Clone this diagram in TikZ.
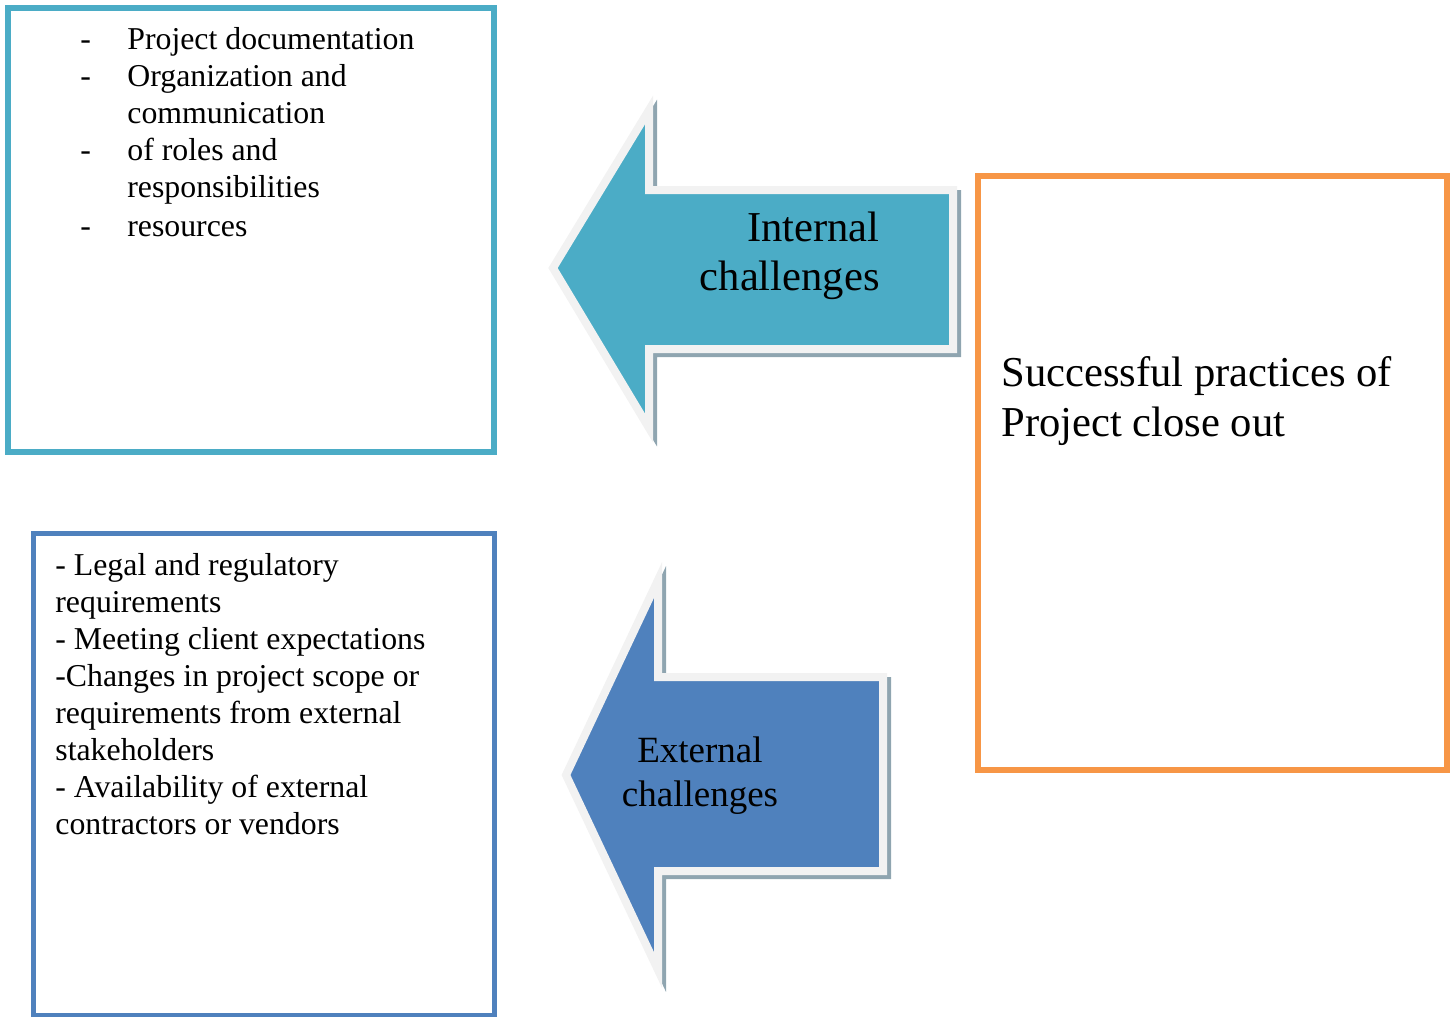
\documentclass[tikz,border=0pt]{standalone}
\usepackage{fontspec}
\setmainfont{Liberation Serif}
\usetikzlibrary{positioning}

\definecolor{internal}{HTML}{4BACC6}
\definecolor{external}{HTML}{4F81BD}
\definecolor{closeout}{HTML}{F79646}
\definecolor{rim}{HTML}{F2F2F2}
\definecolor{shade}{HTML}{8FA5B0}

\tikzset{
  framebox/.style={draw, line width=3pt, inner sep=0pt},
  listtext/.style={inner sep=0pt, font=\fontsize{15.9}{18.5}\selectfont},
  arrowrim/.style={draw=rim, line width=4pt, miter limit=10},
  arrowshade/.style={fill=shade, draw=shade, line width=4pt, miter limit=10, shift={(4,4)}},
}

\begin{document}
\begin{tikzpicture}[x=0.5pt, y=-0.5pt]
  \useasboundingbox (0,0) rectangle (1456,1017);

  \node[framebox, draw=internal, minimum width=243pt, minimum height=222pt] (intbox) at (251,230) {};
  \node[framebox, draw=external, line width=2.5pt, minimum width=230.5pt, minimum height=241pt] (extbox) at (263.5,774) {};
  \node[framebox, draw=closeout, minimum width=234.5pt, minimum height=297pt] (practices) at (1212.5,473) {};

  \filldraw[arrowshade] (553,268) -- (649,110) -- (649,190) -- (953,190) -- (953,349) -- (649,349) -- (649,428) -- cycle;
  \filldraw[fill=internal, arrowrim] (553,268) -- (649,110) -- (649,190) -- (953,190) -- (953,349) -- (649,349) -- (649,428) -- cycle;

  \filldraw[arrowshade] (566,775) -- (658,580) -- (658,677) -- (883,677) -- (883,871) -- (658,871) -- (658,970) -- cycle;
  \filldraw[fill=external, arrowrim] (566,775) -- (658,580) -- (658,677) -- (883,677) -- (883,871) -- (658,871) -- (658,970) -- cycle;

  \node[listtext, anchor=base west] (intlist) at (80,49) {%
    \begin{tabular}[t]{@{}p{23.5pt}@{}l@{}}
      - & Project documentation\\
      - & Organization and\\
        & communication\\
      - & of roles and\\
        & responsibilities\\[1pt]
      - & resources
    \end{tabular}};

  \node[listtext, anchor=base west] (extlist) at (55,575) {%
    \begin{tabular}[t]{@{}l@{}}
      - Legal and regulatory\\
      requirements\\
      - Meeting client expectations\\
      -Changes in project scope or\\
      requirements from external\\
      stakeholders\\
      - Availability of external\\
      contractors or vendors
    \end{tabular}};

  \node[inner sep=0pt, anchor=base east, font=\fontsize{21.3}{24.5}\selectfont] (intlabel) at (880,241) {%
    \begin{tabular}[t]{@{}r@{}}Internal\\challenges\end{tabular}};

  \node[inner sep=0pt, anchor=base, font=\fontsize{18.5}{22}\selectfont] (extlabel) at (700,762) {%
    \begin{tabular}[t]{@{}c@{}}External\\challenges\end{tabular}};

  \node[inner sep=0pt, anchor=base west, font=\fontsize{21.3}{25}\selectfont] (praclabel) at (1001,386) {%
    \begin{tabular}[t]{@{}l@{}}Successful practices of\\Project close out\end{tabular}};
\end{tikzpicture}
\end{document}
